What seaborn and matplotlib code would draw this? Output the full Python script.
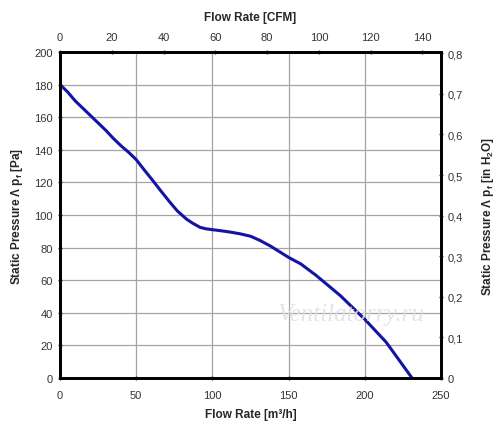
import numpy as np
import pandas as pd
import matplotlib
matplotlib.use("Agg")
import matplotlib.pyplot as plt
import seaborn as sns

# fan curve
flow_m3h = [0, 5, 10, 15, 20, 25, 30, 35, 40, 45, 50, 55, 61, 66, 72, 77, 83, 87, 92, 96,
            100, 106, 112, 118, 125, 131, 138, 144, 150, 158, 168, 184, 200, 214, 231]
pressure_pa = [180, 175.5, 170, 165.5, 161, 156.5, 152, 147, 142.5, 138.5, 134, 128, 121, 115, 108, 102.5,
               97.5, 95, 92.4, 91.5, 91, 90.3, 89.5, 88.5, 87, 84.5, 81, 77.5, 74, 70, 63, 50.5, 36, 22, 0]

x_ticks = [0, 50, 100, 150, 200, 250]
y_ticks = [0, 20, 40, 60, 80, 100, 120, 140, 160, 180, 200]
cfm_ticks = [0, 20, 40, 60, 80, 100, 120, 140]
inh2o_ticks = [0, 0.1, 0.2, 0.3, 0.4, 0.5, 0.6, 0.7, 0.8]
inh2o_labels = ["0", "0,1", "0,2", "0,3", "0,4", "0,5", "0,6", "0,7", "0,8"]

M3H_PER_CFM = 1.699
PA_PER_INH2O = 249.09

df = pd.DataFrame({"flow": flow_m3h, "pressure": pressure_pa})

sns.set_style("white")
plt.rcParams['font.family'] = ['Liberation Sans', 'DejaVu Sans']

fig = plt.figure(figsize=(5, 4.31), dpi=100)
ax = fig.add_axes([0.12, 0.1206, 0.762, 0.7564])

sns.lineplot(data=df, x="flow", y="pressure", ax=ax, color="#1414a4", linewidth=2.2)

ax.set_xlim(0, 250)
ax.set_ylim(0, 200)
ax.set_xticks(x_ticks)
ax.set_yticks(y_ticks)
ax.tick_params(labelsize=8, colors="#333333", length=3, width=1, direction="inout")
ax.tick_params(axis="x", pad=7)
for v in x_ticks[1:-1]:
    ax.axvline(v, color="#a4a4a4", linewidth=0.9, zorder=0)
for v in y_ticks[1:-1]:
    ax.axhline(v, color="#a4a4a4", linewidth=0.9, zorder=0)
for s in ax.spines.values():
    s.set_color("black")
    s.set_linewidth(1.8)
    s.set_visible(True)

ax.set_xlabel("Flow Rate [m³/h]", fontsize=8.5, fontweight="bold", labelpad=6)
ax.set_ylabel("Static Pressure Λ p$_\\mathregular{f}$ [Pa]", fontsize=8.5, fontweight="bold", labelpad=7)

# top axis in CFM
top = ax.twiny()
top.set_xlim(0, 250 / M3H_PER_CFM)
top.set_xticks(cfm_ticks)
top.tick_params(labelsize=8, colors="#333333", length=3, width=1, direction="inout", pad=6)
top.set_xlabel("Flow Rate [CFM]", fontsize=8.5, fontweight="bold", labelpad=8)

# right axis in inches of water
right = ax.twinx()
right.set_ylim(0, 200 / PA_PER_INH2O)
right.set_yticks(inh2o_ticks)
right.set_yticklabels(inh2o_labels)
right.tick_params(labelsize=8, colors="#333333", length=3, width=1, direction="inout")
right.set_ylabel("Static Pressure Λ p$_\\mathregular{f}$ [in H$_\\mathregular{2}$O]",
                 fontsize=8.5, fontweight="bold", labelpad=12)
for a in (top, right):
    for s in a.spines.values():
        s.set_color("black")
        s.set_linewidth(1.8)

# watermark
right.text(0.765, 0.196, "Ventilatorry.ru", transform=ax.transAxes, fontsize=18, style="italic",
           family="Liberation Serif", color="#e0e0e0", alpha=0.85, ha="center", va="center", zorder=5)

fig.savefig("out.png", dpi=100)
